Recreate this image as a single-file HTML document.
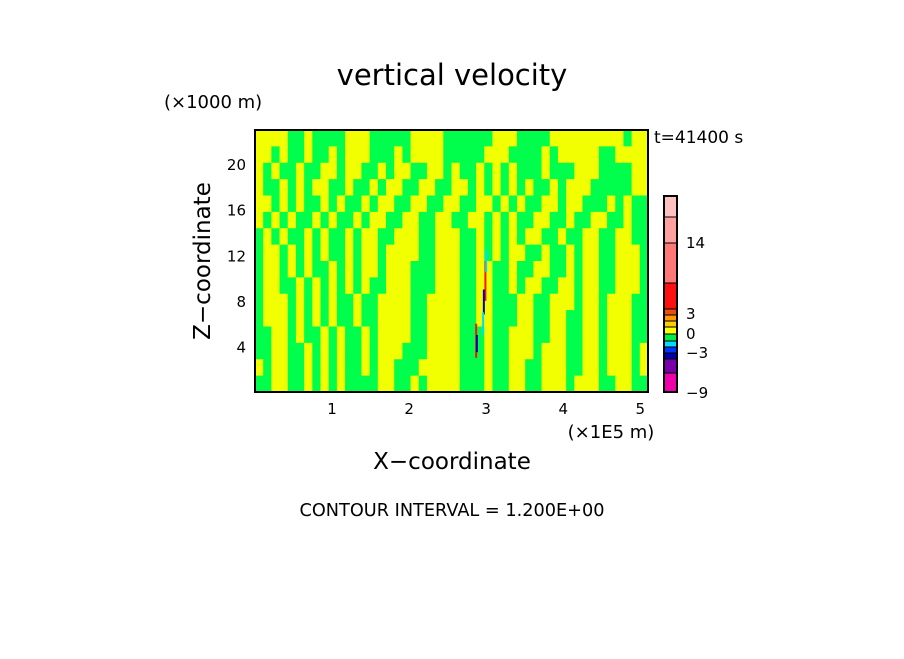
<!DOCTYPE html>
<html><head><meta charset="utf-8"><style>
body{margin:0;background:#fff;width:904px;height:654px;overflow:hidden}
svg text{font-family:"DejaVu Sans","Liberation Sans",sans-serif;fill:#000}
</style></head><body>
<svg id="chart" width="904" height="654" xmlns="http://www.w3.org/2000/svg">
<text x="452" y="85" text-anchor="middle" font-size="29">vertical velocity</text>
<text x="164" y="108" font-size="18">(×1000 m)</text>
<text x="654" y="143" font-size="17">t=41400 s</text>
<text transform="translate(210,261) rotate(-90)" text-anchor="middle" font-size="23">Z−coordinate</text>
<text x="452" y="469" text-anchor="middle" font-size="23">X−coordinate</text>
<text x="611" y="438" text-anchor="middle" font-size="18">(×1E5 m)</text>
<text x="452" y="516" text-anchor="middle" font-size="17.7">CONTOUR INTERVAL = 1.200E+00</text>
<g id="field"></g>
<g id="streaks"></g>
<rect x="255" y="130" width="393" height="262" fill="none" stroke="#000" stroke-width="2"/>
<g id="xticks"></g>
<g id="yticks"></g>
<g id="cbar"></g>
</svg>
<script>
const fieldRows = [
"YYYYGGYGGGGYYYGGGGGYYYYGGGGGGYYYGGGGYYYYYYYYYGYY",
"YYGYGGYGGYGYYYGGGYGYYYYGGGGGYYYGGGGYGYYYYYGGYYYY",
"YGYGGYGGYYGYYGGYGYYGGYYGYGGYGYGYGGGYGGGYYYGGGGYY",
"YGGYGYGYYGGYGGYGYYGGYYGGYYGYGYGYGYGGYGYYYGGGGGYY",
"YYGYGYGGYGYGGYGYYGGYYGGYYGGYYGYGYGGYYGYYGGGYGYGG",
"YGYGYGGYGYGGYGYYGGYYGGYYGGYYGYGYGGYYGGYGGYYGGYGG",
"GYGYGGYGYGGYGYYGGYYYGGYYYGGYGYGYGYYGGYGGYYGGYYGG",
"GYYGYGYGYGGYGYYGYYYYGGYYYGGYGYGYYGGYGGYGYYGGYYYG",
"GYYGYGYGGYGYGYYGYYYGGGYYYGGYYGGYGGYYGGYGYYGGYYYG",
"GYYGGYGYGYGYGYGGYYYGGGYYYGGYYGGYGYYGGYYGYYGGYYYG",
"GYYYGYGYGYGGYGGYYYYGGYYYYGGYYGGGYYGGYYYGYYGYYYGG",
"GYYYGYGYGYGGYGGYYYYGGYYYYGGYYGGGYYGGYYGGYYGYYYGG",
"GGYYGYGGYGYGGYGYYYYGGYYYYGGGYGGYYYGGYYGGYYGYYYGG",
"GGYYGGYGYGYGGYGYYYGGGYYYYGGGYGGYYYGYYYGGYYGYYYGY",
"YGYYGGYGYGYGGYGYYGGGYYYYYGGGYGGYYGGYYYGGYYGYYYGY",
"GGYYGGYGYGYGGGGYYGGYGYYYYGGGYGGYYGGYYYGYYYGGYYGG"];
const xMax = 5.1, zMax = 23;
const xTicks = [1,2,3,4,5];
const zTicks = [4,8,12,16,20];
const streakX = [2.99, 2.97, 3.00, 2.87, 2.88, 2.96];
const streakZ0 = [8.0, 6.8, 10.5, 3.0, 3.5, 5.0];
const streakZ1 = [11.5, 9.0, 12.5, 6.0, 5.0, 7.0];
const streakC = ["#ff1010","#0000cc","#00ddff","#ff1010","#0000aa","#00ddff"];
const cbColors = ["#ee00aa","#7700aa","#0000aa","#0033ff","#00ddff","#00ee44","#ffff00","#ffcc00","#ff9900","#e85010","#ff1010","#ff7878","#ffa0a0","#ffc0c0"];
const cbEdges = [392,373,359,353,347,341,334,327,321,315,309,283,243,217,196];
const cbLabels = ["14","3","0","−3","−9"];
const cbLabelY = [248,319,339,358,398];

const X0=255,X1=648,Y0=392,Y1=130;
const sx=v=>X0+v/xMax*(X1-X0), sz=v=>Y0-v/zMax*(Y0-Y1);
const NS="http://www.w3.org/2000/svg";
function mk(tag,attrs,parent){const e=document.createElementNS(NS,tag);for(const k in attrs)e.setAttribute(k,attrs[k]);parent.appendChild(e);return e;}
const field=document.getElementById('field');
const nr=fieldRows.length, nc=fieldRows[0].length;
const cw=(X1-X0)/nc, ch=(Y0-Y1)/nr;
fieldRows.forEach((row,i)=>{for(let j=0;j<nc;j++){
  const r=mk('rect',{x:X0+j*cw,y:Y1+i*ch,width:cw+0.6,height:ch+0.6,fill:row[j]==='Y'?'#f2ff00':'#00ff4c'},field);
  
  
}});
const st=document.getElementById('streaks');
streakX.forEach((x,i)=>{
  const r=mk('rect',{x:sx(x)-1,y:sz(streakZ1[i]),width:2,height:sz(streakZ0[i])-sz(streakZ1[i]),fill:streakC[i]},st);
  
  
});
const xt=document.getElementById('xticks');
xTicks.forEach(v=>{const t=mk('text',{x:sx(v),y:414,'text-anchor':'middle','font-size':15},xt);t.textContent=v;
  
  });
const yt=document.getElementById('yticks');
zTicks.forEach(v=>{const t=mk('text',{x:246,y:sz(v)+6,'text-anchor':'end','font-size':15},yt);t.textContent=v;
  
  });
const cb=document.getElementById('cbar');
cbColors.forEach((c,i)=>{const r=mk('rect',{x:664,y:cbEdges[i+1],width:13,height:cbEdges[i]-cbEdges[i+1],fill:c,stroke:'#000','stroke-width':1},cb);
  
  });
mk('rect',{x:664,y:196,width:13,height:196,fill:'none',stroke:'#000','stroke-width':2},cb);
cbLabels.forEach((l,i)=>{const t=mk('text',{x:686,y:cbLabelY[i],'font-size':15},cb);t.textContent=l;
  
  });
</script>
</body></html>
